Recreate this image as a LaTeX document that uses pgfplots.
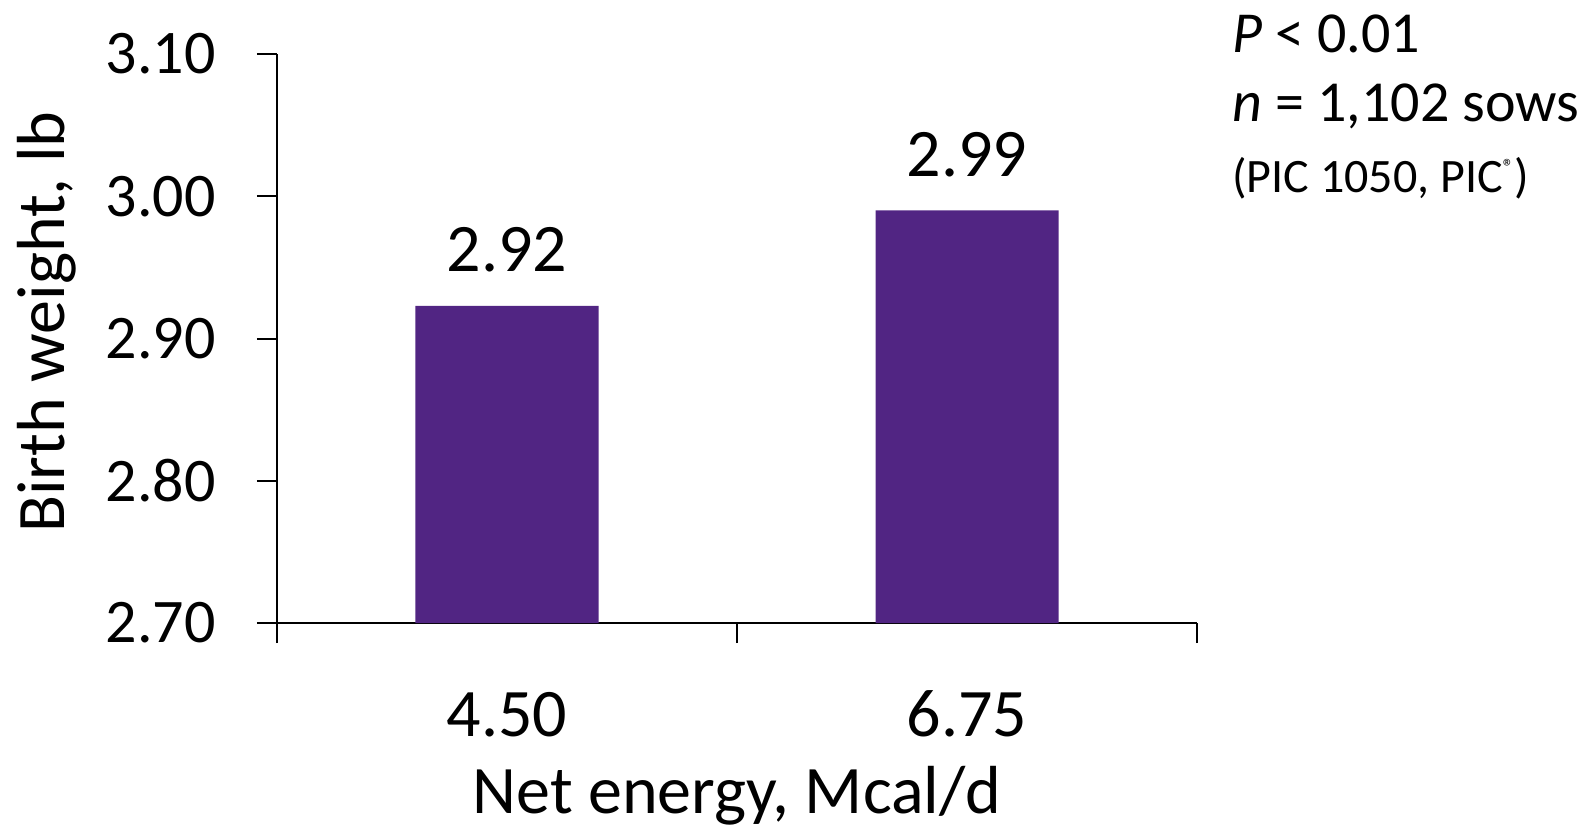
\documentclass[border=0pt]{standalone}
\usepackage{fontspec}
\setmainfont{Carlito}
\usepackage{pgfplots}
\pgfplotsset{compat=1.18}
\definecolor{barpurple}{RGB}{81,37,131}
\begin{document}
\begin{tikzpicture}
\useasboundingbox (-138.5pt,-103.5pt) rectangle (658.5pt,311.5pt);
\begin{axis}[
  at={(0,0)}, anchor=south west,
  scale only axis, width=460pt, height=284.5pt,
  xmin=-0.5, xmax=1.5, ymin=2.7, ymax=3.1,
  axis lines*=left,
  axis line style={line width=1pt, black},
  xtick={0,1}, xticklabels={4.50,6.75},
  xtick style={draw=none},
  extra x ticks={-0.5,0.5,1.5}, extra x tick labels={},
  extra x tick style={xtick style={draw=black, line width=1pt}},
  ytick={2.7,2.8,2.9,3.0,3.1}, yticklabels={2.70,2.80,2.90,3.00,3.10},
  ytick style={line width=1pt, black},
  tick align=outside, major tick length=10pt,
  yticklabel style={font=\fontsize{31}{36}\selectfont, anchor=east, inner sep=0pt, xshift=-20.5pt},
  xticklabel style={font=\fontsize{34}{40}\selectfont, anchor=base, inner sep=0pt, yshift=-46.5pt},
  xlabel={Net energy, Mcal/d},
  ylabel={Birth weight, lb},
  every axis x label/.style={at={(axis description cs:0.5,0)}, yshift=-95pt, anchor=base, font=\fontsize{34}{40}\selectfont},
  every axis y label/.style={at={(axis description cs:0,0)}, xshift=-106pt, yshift=150.5pt, rotate=90, anchor=base, font=\fontsize{34}{40}\selectfont},
  ybar, bar width=91.5pt,
  nodes near coords, point meta=explicit symbolic,
  every node near coord/.append style={font=\fontsize{34}{40}\selectfont, inner sep=0pt, yshift=16.5pt, anchor=south, black},
  clip=false,
]
\addplot[fill=barpurple, draw=none, bar shift=0pt] table[meta=lab] {
x y lab
0 2.923 2.92
1 2.99 2.99
};
\end{axis}
\node[anchor=base west, inner sep=0pt, font=\fontsize{29}{34}\selectfont] at (477.5pt,285pt) {\textit{P} < 0.01};
\node[anchor=base west, inner sep=0pt, font=\fontsize{29}{34}\selectfont] at (477.5pt,250.5pt) {\textit{n} = 1,102 sows};
\node[anchor=base west, inner sep=0pt, font=\fontsize{24}{28}\selectfont] at (477.5pt,215pt) {(PIC 1050, PIC\raisebox{9pt}{\fontsize{11}{11}\selectfont ®})};
\end{tikzpicture}
\end{document}
